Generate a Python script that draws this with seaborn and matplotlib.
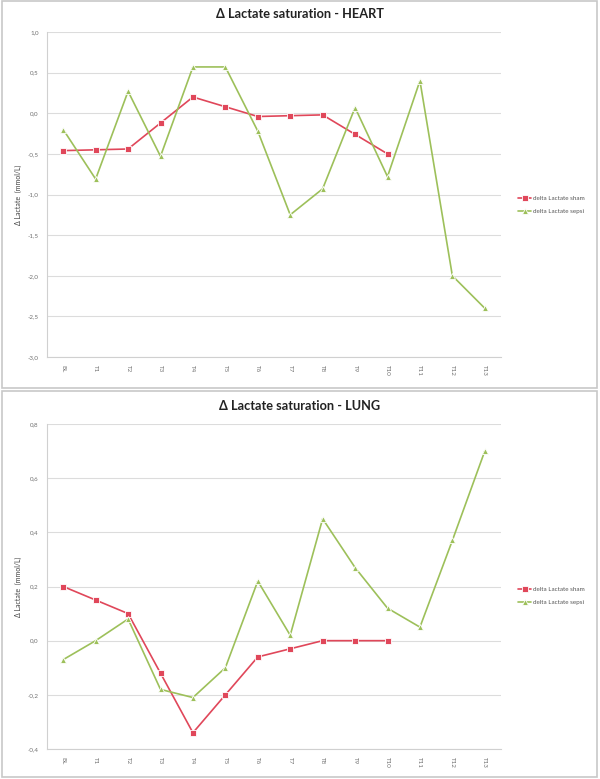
import pandas as pd
import numpy as np
import matplotlib.pyplot as plt
import seaborn as sns
from matplotlib.patches import Rectangle
from matplotlib.ticker import FuncFormatter

sns.set_style('white')
plt.rcParams['font.family'] = ['Lato', 'DejaVu Sans']

times = ['BL', 'T1', 'T2', 'T3', 'T4', 'T5', 'T6', 'T7', 'T8', 'T9', 'T10', 'T11', 'T12', 'T13']

heart_sham = [-0.46, -0.45, -0.44, -0.12, 0.20, 0.08, -0.04, -0.03, -0.02, -0.26, -0.50]
heart_sepsi = [-0.20, -0.81, 0.27, -0.53, 0.57, 0.57, -0.22, -1.25, -0.93, 0.07, -0.78, 0.40, -2.00, -2.40]

lung_sham = [0.20, 0.15, 0.10, -0.12, -0.34, -0.20, -0.06, -0.03, 0.00, 0.00, 0.00]
lung_sepsi = [-0.07, 0.00, 0.08, -0.18, -0.21, -0.10, 0.22, 0.02, 0.45, 0.27, 0.12, 0.05, 0.37, 0.70]

series_names = ['delta Lactate sham', 'delta Lactate sepsi']
pal = {'delta Lactate sham': '#E0475A', 'delta Lactate sepsi': '#9DC05A'}
marks = {'delta Lactate sham': 's', 'delta Lactate sepsi': '^'}


def long_df(sham, sepsi):
    d1 = pd.DataFrame({'time': times[:len(sham)], 'value': sham, 'series': series_names[0]})
    d2 = pd.DataFrame({'time': times[:len(sepsi)], 'value': sepsi, 'series': series_names[1]})
    return pd.concat([d1, d2], ignore_index=True)


fig = plt.figure(figsize=(6, 7.79), dpi=100)

# panel frames
for y0, y1 in [(1, 388), (391, 777)]:
    fig.patches.append(Rectangle((2 / 600, 1 - y1 / 779), 595 / 600, (y1 - y0) / 779,
                                 transform=fig.transFigure, fill=False,
                                 edgecolor='#c8c8c8', linewidth=1.2))

panels = [
    ('Δ Lactate saturation - HEART', heart_sham, heart_sepsi, (-3.0, 1.0), np.arange(-3.0, 1.01, 0.5), 357, 205, 14),
    ('Δ Lactate saturation - LUNG', lung_sham, lung_sepsi, (-0.4, 0.8), np.arange(-0.4, 0.81, 0.2), 749, 596, 406),
]

for title, sham, sepsi, ylim, yticks, ybot, legy, ty in panels:
    ax = fig.add_axes([47 / 600, 1 - ybot / 779, 454 / 600, 325 / 779])
    df = long_df(sham, sepsi)
    sns.lineplot(data=df, x='time', y='value', hue='series', style='series',
                 markers=marks, dashes=False, palette=pal, sort=False,
                 linewidth=1.2, markersize=4.8, markeredgewidth=0.6, ax=ax)
    ax.set_xlim(-0.5, len(times) - 0.5)
    ax.set_ylim(*ylim)
    ax.set_yticks(yticks)
    ax.yaxis.set_major_formatter(FuncFormatter(lambda v, p: ('%.1f' % v).replace('.', ',')))
    ax.set_xticks(range(len(times)))
    ax.set_xticklabels(times, rotation=-90)
    ax.tick_params(axis='both', labelsize=4.5, colors='#707070', length=0, pad=6)
    ax.yaxis.grid(True, color='#dcdcdc', linewidth=0.8)
    ax.set_axisbelow(True)
    for s in ['top', 'right']:
        ax.spines[s].set_visible(False)
    for s in ['left', 'bottom']:
        ax.spines[s].set_color('#d0d0d0')
        ax.spines[s].set_linewidth(0.8)
    ax.set_xlabel('')
    ax.set_ylabel('Δ Lactate  (mmol/L)', fontsize=5, color='#404040', labelpad=4)
    fig.text(0.5, 1 - ty / 779, title, fontsize=9.2, fontweight='bold', color='#222222',
             ha='center', va='center')
    ax.legend(title=None, frameon=False, fontsize=4.5, loc='center left',
              bbox_to_anchor=(512 / 600, 1 - legy / 779), bbox_transform=fig.transFigure,
              handlelength=2.2, handletextpad=0.3, labelspacing=1.3, labelcolor='#555555')

fig.savefig('out.png', dpi=100)
